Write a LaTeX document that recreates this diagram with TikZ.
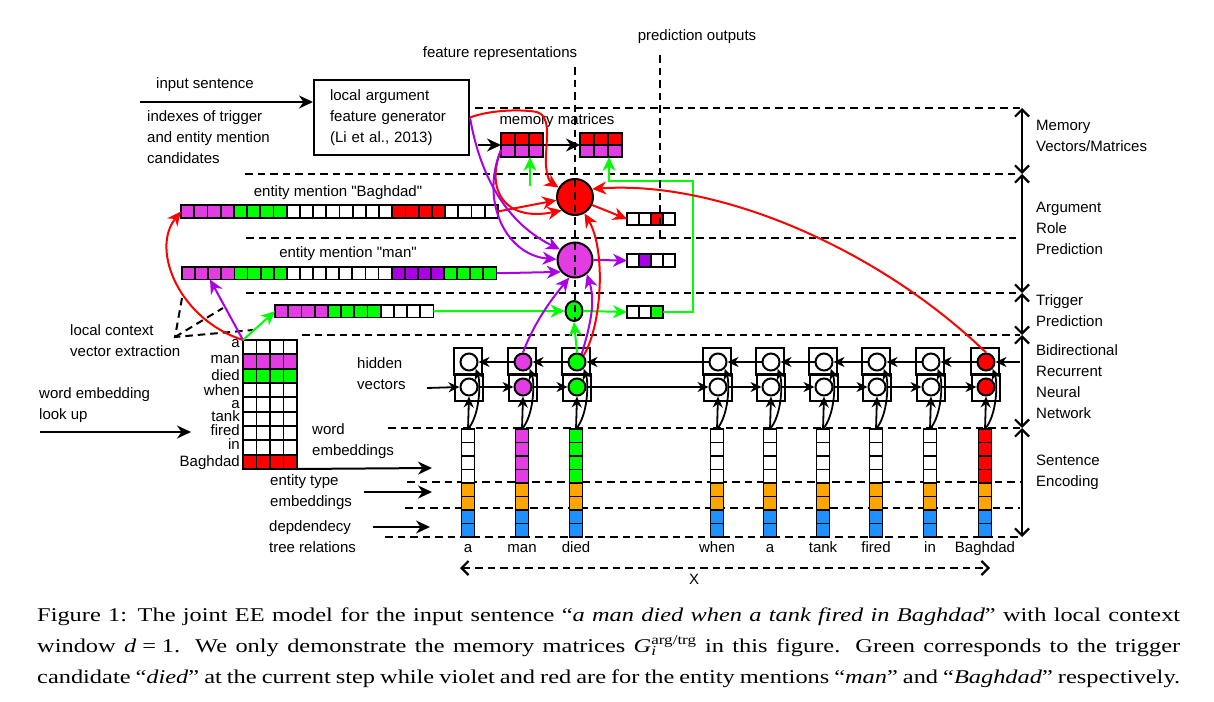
\documentclass[tikz,border=0pt]{standalone}
\usepackage{fontspec}
\setmainfont{Liberation Sans}
\newfontfamily\sansf{Liberation Sans}[Ligatures=TeXOff]
\newfontfamily\capfont{Liberation Serif}[FakeStretch=1.25]
\usetikzlibrary{arrows.meta,shapes.geometric}
\definecolor{mred}{RGB}{255,0,0}
\definecolor{mmag}{RGB}{226,60,226}
\definecolor{mvio}{RGB}{170,0,230}
\definecolor{mgrn}{RGB}{0,255,0}
\definecolor{morg}{RGB}{255,165,0}
\definecolor{mblu}{RGB}{30,144,255}
\tikzset{
 lbl/.style={font=\sansf\fontsize{15}{21}\selectfont, inner sep=0pt, align=left},
 capline/.style={anchor=base west, inner sep=0pt, font=\capfont\fontsize{19.5}{31}\selectfont},
 arr/.style={line width=2pt, -{Stealth[length=14pt,width=13pt,inset=4.5pt]}},
 sarr/.style={line width=1.8pt, -{Stealth[length=11pt,width=10pt,inset=3.5pt]}},
 dsh/.style={line width=2.2pt, dash pattern=on 7.5pt off 5pt},
 barb/.style={line width=2.2pt, {Straight Barb[length=7pt,width=14pt]}-{Straight Barb[length=7pt,width=14pt]}},
 cell/.style={draw, line width=1.8pt},
 hid/.style={circle, draw, line width=2pt, minimum size=17pt, inner sep=0pt},
 big/.style={circle, draw, line width=2pt, inner sep=0pt},
}
\newcommand\hcells[7]{%
  \node[inner sep=0pt,outer sep=0pt,anchor=north west,minimum width={(#6)*(#4)*1pt},minimum height={(#5)*1pt}] (#1) at (#2,#3) {};
  \foreach \cc [count=\ii from 0] in {#7} {\draw[cell,fill=\cc] ({#2+\ii*#4},#3) rectangle ++(#4,#5);}
}
\newcommand\vcells[7]{%
  \node[inner sep=0pt,outer sep=0pt,anchor=north west,minimum width={(#4)*1pt},minimum height={(#6)*(#5)*1pt}] (#1) at (#2,#3) {};
  \foreach \cc [count=\ii from 0] in {#7} {\draw[cell,fill=\cc] (#2,{#3+\ii*#5}) rectangle ++(#4,#5);}
}
\begin{document}
\begin{tikzpicture}[x=1pt,y=-1pt]
\useasboundingbox[fill=white] (0,0) rectangle (1214,701);

% horizontal separators
\draw[dsh] (475,108) -- (1020,108);
\draw[dsh] (245,174) -- (1020,174);
\draw[dsh] (246,238) -- (1020,238);
\draw[dsh] (246,293) -- (1020,293);
\draw[dsh] (302,335) -- (1020,335);
\draw[dsh] (388,428) -- (1020,428);
\draw[dsh] (407,482) -- (1020,482);
\draw[dsh] (405,508) -- (1020,508);
\draw[dsh] (385,537) -- (1020,537);

% right side brackets and labels
\draw[barb] (1022,108) -- (1022,174);
\draw[barb] (1022,174) -- (1022,293);
\draw[barb] (1022,293) -- (1022,335);
\draw[barb] (1022,335) -- (1022,428);
\draw[barb] (1022,428) -- (1022,537);
\node[lbl,anchor=west] (lmem) at (1036,136) {Memory\\Vectors/Matrices};
\node[lbl,anchor=west] (larg) at (1036,228) {Argument\\Role\\Prediction};
\node[lbl,anchor=west] (ltrg) at (1036,311) {Trigger\\Prediction};
\node[lbl,anchor=west] (lrnn) at (1036,382) {Bidirectional\\Recurrent\\Neural\\Network};
\node[lbl,anchor=west] (lsen) at (1036,472) {Sentence\\Encoding};

% top left
\node[lbl] (tin) at (205,85) {input sentence};
\node[lbl,anchor=west] (tidx) at (147,137) {indexes of trigger\\and entity mention\\candidates};
\node[lbl,draw,line width=2pt,anchor=north west,minimum width=155pt,minimum height=75pt,text width=123pt,inner xsep=16pt] (gen) at (313,79) {local argument\\feature generator\\(Li et al., 2013)};
\coordinate (ins) at (140,102);
\draw[arr] (ins) -- (gen.west |- ins);

\node[lbl] (tfr) at (500,54) {feature representations};
\node[lbl] (tpo) at (697,37) {prediction outputs};

% memory matrices
\hcells{m1a}{501}{133}{14}{12}{3}{mred,mred,mred}
\hcells{m1b}{501}{145}{14}{12}{3}{mmag,mmag,mmag}
\hcells{m2a}{580}{133}{14}{12}{3}{mred,mred,mred}
\hcells{m2b}{580}{145}{14}{12}{3}{mmag,mmag,mmag}
\node[lbl] (tmm) at (557,121) {memory matrices};
\coordinate (ga) at (478,145);
\draw[arr] (ga) -- (m1a.south west);
\draw[arr] (m1a.south east) -- (m2a.south west);

% entity vectors
\node[lbl] (tbg) at (338,193) {entity mention "Baghdad"};
\hcells{bv}{181}{205}{13.2}{13}{24}{mmag,mmag,mmag,mmag,mgrn,mgrn,mgrn,mgrn,white,white,white,white,white,white,white,white,mred,mred,mred,mred,white,white,white,white}
\node[lbl] (tmn) at (348,254) {entity mention "man"};
\hcells{mv}{182}{267}{13.1}{12.5}{24}{mmag,mmag,mmag,mmag,mgrn,mgrn,mgrn,mgrn,white,white,white,white,white,white,white,white,mvio,mvio,mvio,mvio,mgrn,mgrn,mgrn,mgrn}
\hcells{tv}{275}{305}{13.2}{12.5}{12}{mmag,mmag,mmag,mmag,mgrn,mgrn,mgrn,mgrn,white,white,white,white}

% prediction circles
\node[big,fill=mred,minimum size=36pt] (rc) at (575,197) {};
\node[big,fill=mmag,minimum size=35pt] (mc) at (575,260) {};
\node[ellipse,draw,line width=2pt,fill=mgrn,minimum width=17pt,minimum height=20pt,inner sep=0pt] (gc) at (574,311) {};

% outputs
\hcells{ro}{627}{213}{12}{12}{4}{white,white,mred,white}
\hcells{mo}{627}{254}{12}{13}{4}{white,mvio,white,white}
\hcells{go}{627}{306}{12}{12}{3}{white,white,mgrn}

\draw[arr,mred] (rc.335) -- (ro.west);
\draw[arr,mvio] (mc.east) -- (mo.west);
\draw[arr,mgrn] (gc.east) -- (go.west);
\draw[arr,mgrn] (tv.east) -- (gc.west);
\draw[arr,mred] (bv.east) -- (rc.190);
\draw[arr,mvio] (mv.east) -- (mc.220);

% green feedback
\coordinate (gl1) at (693,312);
\coordinate (gl2) at (693,181);
\coordinate (gl3) at (609,181);
\draw[arr,mgrn] (go.east) -- (gl1) -- (gl2) -- (gl3) -- (gl3 |- m2b.south);
\coordinate (gu) at (530,186);
\draw[arr,mgrn] (gu) -- (gu |- m1b.south);

% curves from generator and memory
\coordinate (mm1) at (501,150);
\draw[arr,mred] (gen.east) .. controls (490,110) and (520,109) .. (537,112) .. controls (550,116) and (547,135) .. (546,155) .. controls (545,175) and (550,182) .. (rc.150);
\draw[arr,mred] (mm1) .. controls (485,190) and (505,222) .. (rc.225);
\draw[arr,mvio] (gen.east) .. controls (478,165) and (500,220) .. (mc.145);
\draw[arr,mvio] (mm1) .. controls (480,200) and (505,255) .. (mc.178);

% vertical dashed lines
\draw[dsh] (575,67) -- (575,320);
\draw[dsh] (660,55) -- (660,237);

% lookup table
\node[inner sep=0pt,outer sep=0pt,anchor=north west,minimum width=54pt,minimum height=129pt] (lk) at (243,340) {};
\foreach \cc [count=\r from 0] in {white,mmag,mgrn,white,white,white,white,white,mred} {
  \foreach \k in {0,...,3} {\draw[cell,fill=\cc] ({243+\k*13.5},{340+\r*14.33}) rectangle ++(13.5,14.33);}
}
\foreach \w/\yy [count=\q] in {a/347,man/363,died/380,when/395,a/408,tank/421,fired/435,in/449,Baghdad/466} {
  \node[lbl,anchor=base east] (rw\q) at (240,\yy) {\w};
}

% local context
\node[lbl,anchor=west] (tlc) at (70,341) {local context\\vector extraction};
\coordinate (lc) at (175,337);
\coordinate (lc1) at (182,298);
\coordinate (lc2) at (223,308);
\coordinate (lc3) at (253,330);
\draw[dsh,line width=2pt] (lc1) -- (lc) -- (lc3);
\draw[dsh,line width=2pt] (lc) -- (lc2);
\draw[arr,mred] (lk.north west) .. controls (180,320) and (150,250) .. (bv.west);
\draw[arr,mvio] (lk.north west) -- ([xshift=28pt]mv.south west);
\draw[arr,mgrn] (lk.north west) -- (tv.west);

% left texts and input arrows
\node[lbl,anchor=west] (twe) at (39,405) {word embedding\\look up};
\coordinate (wel) at (40,432);
\coordinate (wer) at (191,432);
\draw[arr] (wel) -- (wer);
\node[lbl,anchor=west] (thv) at (357,374) {hidden\\vectors};
\node[lbl,anchor=west] (twb) at (312,441) {word\\embeddings};
\node[lbl,anchor=west] (tet) at (270,492) {entity type\\embeddings};
\node[lbl,anchor=west] (tdp) at (269,537) {depdendecy\\tree relations};
\coordinate (ae1) at (432,468);
\coordinate (ae2a) at (364,492);
\coordinate (ae2) at (432,492);
\coordinate (ae3a) at (373,527);
\coordinate (ae3) at (430,527);
\draw[arr] (lk.south east) -- (ae1);
\draw[arr] (ae2a) -- (ae2);
\draw[arr] (ae3a) -- (ae3);

% RNN columns
\foreach \x/\n/\c/\t in {468/1/white/a,522/2/mmag/man,576/3/mgrn/died,717/4/white/when,770/5/white/a,823/6/white/tank,876/7/white/fired,930/8/white/in,985/9/mred/Baghdad} {
  \draw[line width=2pt] (\x-14,348) rectangle (\x+14,375);
  \draw[line width=2pt] (\x-13,374) rectangle (\x+15,401);
  \node[hid,fill=\c] (u\n) at (\x+1,362) {};
  \node[hid,fill=\c] (l\n) at (\x+1,387) {};
  \vcells{v\n}{\x-6.5}{429}{13}{13.5}{8}{\c,\c,\c,\c,morg,morg,mblu,mblu}
  \draw[sarr] (v\n.north) -- (l\n.south);
  \draw[sarr] (v\n.north) .. controls +(12,-14) and +(5,14) .. (u\n.south east);
  \node[lbl,anchor=base] (w\n) at (\x,552) {\t};
}
\foreach \a/\b in {1/2,2/3,3/4,4/5,5/6,6/7,7/8,8/9} {
  \draw[sarr] (l\a) -- (l\b);
  \draw[sarr] (u\b) -- (u\a);
}
\coordinate (hin) at (427,388);
\coordinate (hrt) at (1020,362);
\draw[sarr] (hin) -- (l1.west);
\draw[sarr] (hrt) -- (u9.east);

% colored connections from hidden units
\draw[arr,mgrn] (u3.north) -- (gc.south);
\draw[arr,mvio] (u2.north) .. controls (535,320) and (555,295) .. (mc.252);
\draw[arr,mvio] (u3.60) .. controls (592,320) and (595,300) .. (mc.310);
\draw[arr,mred] (u3.45) .. controls (602,325) and (606,250) .. (rc.300);
\draw[arr,mred] (u9.north) .. controls (880,250) and (720,180) .. (rc.25);

% X axis
\coordinate (xa) at (460,568);
\coordinate (xb) at (990,568);
\draw[dsh,{Straight Barb[length=7pt,width=14pt]}-{Straight Barb[length=7pt,width=14pt]}] (xa) -- (xb);
\node[lbl] (tx) at (694,579) {X};

% caption
\node[capline] (cap1) at (37,621) {\makebox[1143pt][s]{Figure 1: The joint EE model for the input sentence “\textit{a man died when a tank fired in Baghdad}” with local context}};
\node[capline] (cap2) at (37,652) {\makebox[1143pt][s]{window \textit{d}\hspace{0.3em}=\hspace{0.3em}1. We only demonstrate the memory matrices \textit{G}\rlap{\textsubscript{\textit{i}}}\textsuperscript{arg/trg} in this figure. Green corresponds to the trigger}};
\node[capline] (cap3) at (37,683) {\makebox[1143pt][s]{candidate “\textit{died}” at the current step while violet and red are for the entity mentions “\textit{man}” and “\textit{Baghdad}” respectively.}};
\end{tikzpicture}
\end{document}
